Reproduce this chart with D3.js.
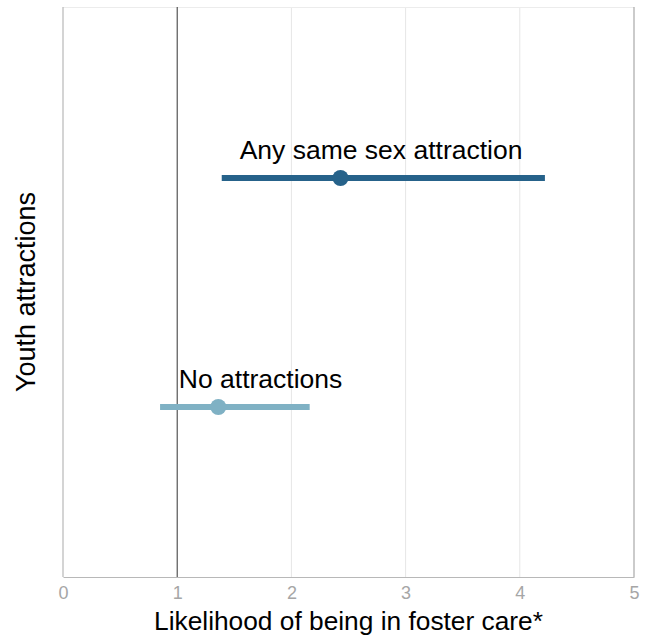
<!DOCTYPE html>
<html>
<head>
<meta charset="utf-8">
<script src="https://cdn.jsdelivr.net/npm/d3@7"></script>
<style>
  html, body { margin: 0; padding: 0; background: #fff; }
  svg { display: block; font-family: "Liberation Sans", Arial, sans-serif; }
</style>
</head>
<body>
<svg id="chart" width="652" height="638"></svg>
<script>
// Odds of being in foster care by youth attraction group
const groups = ["Any same sex attraction", "No attractions"];
const estimates = [2.43, 1.36];
const lowerCI = [1.39, 0.85];
const upperCI = [4.22, 2.16];
const labelAt = [2.785, 1.73];
const colors = ["#26628a", "#7fb1c4"];
const xTicks = [0, 1, 2, 3, 4, 5];

const svg = d3.select("#chart");
const margin = { left: 63, right: 18, top: 7, bottom: 61 };
const W = 652, H = 638;

const x = d3.scaleLinear().domain([0, 5]).range([margin.left, W - margin.right]);
const y = d3.scalePoint().domain(groups).range([178, 407]);

// light gridlines
svg.append("g").selectAll("line")
  .data(xTicks.filter(t => t > 1 && t < 5))
  .join("line")
  .attr("x1", d => x(d)).attr("x2", d => x(d))
  .attr("y1", margin.top).attr("y2", H - margin.bottom)
  .attr("stroke", "#e6e6e6").attr("stroke-width", 1);

// panel border
svg.append("line").attr("x1", x(0)).attr("x2", x(5))
  .attr("y1", margin.top + 0.5).attr("y2", margin.top + 0.5)
  .attr("stroke", "#ececec");
svg.append("line").attr("x1", x(0)).attr("x2", x(0))
  .attr("y1", margin.top).attr("y2", H - margin.bottom)
  .attr("stroke", "#b8b8b8").attr("stroke-width", 1.2);
svg.append("line").attr("x1", x(5)).attr("x2", x(5))
  .attr("y1", margin.top).attr("y2", H - margin.bottom)
  .attr("stroke", "#a8a8a8").attr("stroke-width", 1.2);

// x axis
const xAxis = svg.append("g")
  .attr("transform", `translate(0,${H - margin.bottom})`)
  .call(d3.axisBottom(x).tickValues(xTicks).tickFormat(d3.format("d")).tickSize(0).tickPadding(9));
xAxis.select(".domain").attr("stroke", "#b8b8b8").attr("stroke-width", 1.2);
xAxis.selectAll("text").attr("fill", "#a6a6a6").attr("font-size", 18)
  .attr("font-family", "Liberation Sans, Arial, sans-serif")
  .attr("dy", null).attr("y", 22);

// reference line at 1
svg.append("line").attr("x1", x(1)).attr("x2", x(1))
  .attr("y1", margin.top).attr("y2", H - margin.bottom)
  .attr("stroke", "#333").attr("stroke-width", 1);

// intervals, points, labels
const rows = groups.map((g, i) => ({ g, est: estimates[i], lo: lowerCI[i], hi: upperCI[i], lx: labelAt[i], c: colors[i] }));
const gr = svg.append("g").selectAll("g").data(rows).join("g");
gr.append("line")
  .attr("x1", d => x(d.lo)).attr("x2", d => x(d.hi))
  .attr("y1", d => y(d.g)).attr("y2", d => y(d.g))
  .attr("stroke", d => d.c).attr("stroke-width", 6);
gr.append("circle")
  .attr("cx", d => x(d.est)).attr("cy", d => y(d.g)).attr("r", 8)
  .attr("fill", d => d.c);
gr.append("text")
  .attr("x", d => x(d.lx)).attr("y", d => y(d.g) - 19)
  .attr("text-anchor", "middle").attr("font-size", 26.5).attr("fill", "#000")
  .text(d => d.g);

// axis titles
svg.append("text").attr("x", (x(0) + x(5)) / 2).attr("y", 630)
  .attr("text-anchor", "middle").attr("font-size", 26.3).attr("fill", "#000")
  .text("Likelihood of being in foster care*");
svg.append("text")
  .attr("transform", `translate(35,${(margin.top + H - margin.bottom) / 2}) rotate(-90)`)
  .attr("text-anchor", "middle").attr("font-size", 27).attr("fill", "#000")
  .text("Youth attractions");
</script>
</body>
</html>
